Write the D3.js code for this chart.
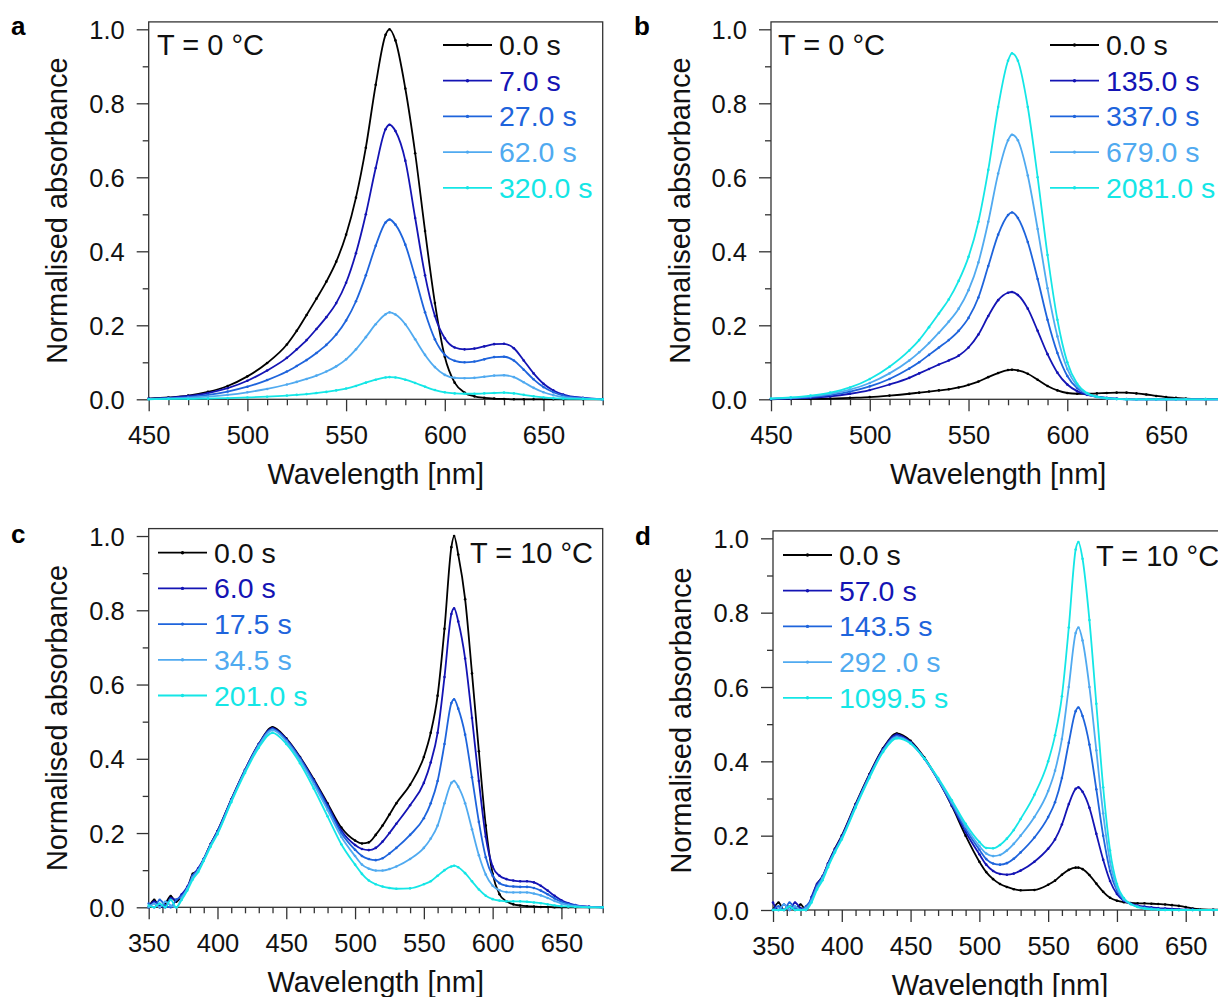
<!DOCTYPE html>
<html>
<head>
<meta charset="utf-8">
<script src="https://d3js.org/d3.v7.min.js"></script>
<style>
  body { margin: 0; background: #fff; }
  text { font-family: "Liberation Sans", Arial, sans-serif; }
</style>
</head>
<body>
<svg id="fig" width="1218" height="997"></svg>
<script>
// colours of the five time traces (black, dark blue, blue, light blue, cyan)
const seriesColors = ['#000000', '#1414b4', '#1e64dc', '#50aaf0', '#14e6e6'];

// ---- panels a / b : 450-680 nm ----
const wlAB = [450,460,470,480,490,500,510,520,525,530,535,540,545,550,555,560,565,570,572,575,
              580,585,590,595,600,605,610,615,620,625,630,635,640,645,650,655,660,670,680];

const labelsA = ['0.0 s', '7.0 s', '27.0 s', '62.0 s', '320.0 s'];
const a0 = [0.002,0.005,0.01,0.02,0.036, 0.062,0.098,0.148,0.185,0.228, 0.272,0.318,0.372,0.445,0.545, 0.68,0.85,0.985,1.0,0.97,
            0.84,0.665,0.455,0.26,0.115, 0.045,0.018,0.008,0.004,0.002, 0.001,0,0,0,0, 0,0,0,0];
const a1 = [0.002,0.004,0.009,0.017,0.03, 0.05,0.078,0.112,0.135,0.16, 0.19,0.222,0.26,0.315,0.395, 0.5,0.625,0.73,0.742,0.725,
            0.645,0.49,0.335,0.225,0.165, 0.14,0.135,0.137,0.143,0.149, 0.15,0.138,0.105,0.07,0.042, 0.024,0.013,0.004,0.001];
const a2 = [0.001,0.003,0.006,0.012,0.021, 0.034,0.052,0.075,0.09,0.106, 0.125,0.147,0.175,0.213,0.265, 0.335,0.415,0.478,0.486,0.472,
            0.418,0.33,0.235,0.162,0.12, 0.104,0.1,0.102,0.108,0.114, 0.115,0.105,0.08,0.054,0.033, 0.019,0.01,0.003,0];
const a3 = [0.001,0.002,0.004,0.007,0.012, 0.019,0.028,0.04,0.047,0.055, 0.064,0.075,0.089,0.108,0.135, 0.168,0.203,0.23,0.235,0.229,
            0.203,0.162,0.12,0.087,0.066, 0.058,0.057,0.058,0.061,0.064, 0.065,0.06,0.046,0.031,0.019, 0.011,0.006,0.002,0];
const a4 = [0,0.001,0.001,0.002,0.003, 0.005,0.007,0.01,0.012,0.014, 0.017,0.02,0.024,0.029,0.036, 0.045,0.053,0.059,0.06,0.059,
            0.053,0.044,0.034,0.025,0.019, 0.016,0.015,0.015,0.016,0.017, 0.018,0.016,0.012,0.008,0.005, 0.003,0.002,0.001,0];

const labelsB = ['0.0 s', '135.0 s', '337.0 s', '679.0 s', '2081.0 s'];
const b0 = [0,0.001,0.001,0.002,0.004, 0.006,0.01,0.015,0.018,0.021, 0.024,0.027,0.032,0.039,0.048, 0.06,0.071,0.079,0.08,0.078,
            0.069,0.053,0.036,0.024,0.017, 0.015,0.015,0.016,0.017,0.018, 0.018,0.016,0.013,0.009,0.006, 0.004,0.002,0.001,0];
const b1 = [0.001,0.002,0.004,0.008,0.015, 0.025,0.04,0.058,0.07,0.082, 0.094,0.105,0.118,0.14,0.175, 0.225,0.268,0.288,0.29,0.282,
            0.245,0.185,0.122,0.072,0.04, 0.022,0.012,0.007,0.004,0.002, 0.001,0,0,0,0, 0,0,0,0];
const b2 = [0.001,0.003,0.006,0.012,0.021, 0.035,0.055,0.083,0.1,0.12, 0.14,0.16,0.185,0.22,0.275, 0.36,0.445,0.498,0.505,0.49,
            0.425,0.325,0.215,0.125,0.063, 0.03,0.014,0.007,0.003,0.001, 0,0,0,0,0, 0,0,0,0];
const b3 = [0.002,0.004,0.008,0.015,0.026, 0.044,0.07,0.105,0.127,0.152, 0.18,0.21,0.245,0.295,0.37, 0.48,0.61,0.7,0.715,0.7,
            0.605,0.46,0.3,0.17,0.082, 0.036,0.015,0.006,0.002,0.001, 0,0,0,0,0, 0,0,0,0];
const b4 = [0.002,0.005,0.01,0.018,0.032, 0.055,0.088,0.132,0.16,0.195, 0.232,0.27,0.32,0.385,0.48, 0.62,0.79,0.915,0.935,0.915,
            0.79,0.6,0.39,0.215,0.1, 0.042,0.017,0.007,0.003,0.001, 0,0,0,0,0, 0,0,0,0];

// ---- panels c / d : 350-680 nm ----
const wlCD = [350,354,358,362,366,370,374,378,382,386, 390,395,400,410,420,430,440,450,460,470,
              480,490,500,505,510,515,520,525,530,540, 550,555,560,565,570,572,575,580,585,590,
              595,600,605,610,615,620,625,630,635,640, 645,650,655,660,670,680];

const labelsC = ['0.0 s', '6.0 s', '17.5 s', '34.5 s', '201.0 s'];
const c0 = [0,0.02,0,0.01,0.03,0.015,0.03,0.05,0.09,0.1, 0.13,0.17,0.205,0.29,0.37,0.44,0.485,0.455,0.405,0.345,
            0.28,0.215,0.18,0.172,0.175,0.195,0.22,0.25,0.28,0.33, 0.405,0.47,0.57,0.75,0.97,1.0,0.95,0.83,0.63,0.42,
            0.22,0.09,0.035,0.016,0.008,0.005,0.003,0.002,0.001,0.001, 0,0,0,0,0,0];
const c1 = [0,0.015,0.005,0,0.025,0.02,0.035,0.055,0.085,0.105, 0.13,0.17,0.205,0.29,0.37,0.44,0.482,0.453,0.403,0.342,
            0.275,0.207,0.168,0.157,0.154,0.16,0.177,0.2,0.225,0.275, 0.335,0.39,0.47,0.62,0.79,0.805,0.77,0.67,0.51,0.34,
            0.19,0.11,0.085,0.076,0.072,0.07,0.07,0.067,0.058,0.045, 0.031,0.019,0.011,0.006,0.002,0];
const c2 = [0.01,0,0.02,0.005,0,0.02,0.03,0.05,0.085,0.1, 0.13,0.168,0.203,0.288,0.368,0.438,0.48,0.45,0.4,0.338,
            0.27,0.2,0.155,0.138,0.13,0.127,0.132,0.145,0.16,0.195, 0.24,0.28,0.34,0.44,0.55,0.56,0.535,0.465,0.35,0.23,
            0.135,0.085,0.065,0.058,0.056,0.055,0.055,0.052,0.045,0.035, 0.024,0.015,0.009,0.005,0.001,0];
const c3 = [0,0.01,0,0.015,0.005,0,0.025,0.05,0.08,0.1, 0.128,0.167,0.2,0.286,0.366,0.435,0.477,0.447,0.396,0.332,
            0.262,0.19,0.138,0.115,0.104,0.099,0.099,0.103,0.11,0.13, 0.16,0.185,0.22,0.28,0.335,0.34,0.325,0.28,0.21,0.14,
            0.088,0.058,0.046,0.041,0.04,0.04,0.04,0.037,0.032,0.025, 0.017,0.01,0.006,0.003,0.001,0];
const c4 = [0.005,0,0.01,0,0.02,0,0.02,0.045,0.075,0.095, 0.125,0.163,0.197,0.283,0.362,0.43,0.47,0.44,0.388,0.32,
            0.245,0.17,0.115,0.09,0.072,0.062,0.056,0.052,0.05,0.051, 0.062,0.07,0.085,0.1,0.11,0.112,0.108,0.092,0.07,0.048,
            0.031,0.022,0.018,0.016,0.016,0.016,0.015,0.013,0.011,0.008, 0.005,0.003,0.002,0.001,0,0];

// (named dd* so they do not shadow the d3 global)
const labelsD = ['0.0 s', '57.0 s', '143.5 s', '292 .0 s', '1099.5 s'];
const dd0 = [0,0.02,0,0.01,0,0.015,0,0.03,0.07,0.09, 0.125,0.165,0.2,0.285,0.365,0.435,0.475,0.455,0.41,0.35,
            0.28,0.2,0.13,0.102,0.083,0.07,0.062,0.056,0.053,0.054, 0.068,0.079,0.095,0.108,0.114,0.114,0.11,0.094,0.071,0.049,
            0.033,0.025,0.021,0.019,0.018,0.018,0.017,0.016,0.015,0.013, 0.011,0.008,0.004,0.002,0.001,0];
const dd1 = [0.02,0,0.015,0,0.02,0.005,0,0.035,0.07,0.09, 0.125,0.163,0.198,0.283,0.363,0.433,0.472,0.452,0.408,0.35,
            0.282,0.21,0.15,0.122,0.105,0.097,0.095,0.098,0.106,0.13, 0.165,0.19,0.23,0.285,0.326,0.33,0.318,0.275,0.205,0.135,
            0.078,0.043,0.025,0.017,0.012,0.009,0.007,0.005,0.004,0.003, 0.002,0.001,0.001,0,0,0];
const dd2 = [0,0.01,0,0.02,0.005,0,0.01,0.03,0.065,0.088, 0.122,0.16,0.195,0.28,0.36,0.43,0.468,0.45,0.407,0.35,
            0.285,0.218,0.162,0.137,0.125,0.122,0.126,0.138,0.155,0.195, 0.25,0.29,0.355,0.45,0.535,0.545,0.522,0.445,0.325,0.2,
            0.105,0.052,0.027,0.016,0.01,0.006,0.004,0.002,0.001,0, 0,0,0,0,0,0];
const dd3 = [0,0,0.015,0,0.01,0,0.005,0.025,0.06,0.085, 0.12,0.158,0.193,0.278,0.358,0.428,0.465,0.449,0.407,0.352,
            0.29,0.225,0.172,0.152,0.145,0.148,0.16,0.178,0.2,0.25, 0.32,0.375,0.46,0.6,0.745,0.76,0.725,0.6,0.43,0.26,
            0.13,0.06,0.029,0.016,0.009,0.005,0.003,0.001,0,0, 0,0,0,0,0,0];
const dd4 = [0,0,0,0.01,0,0,0,0.02,0.055,0.08, 0.115,0.155,0.19,0.275,0.355,0.425,0.462,0.448,0.408,0.355,
            0.295,0.232,0.183,0.167,0.166,0.175,0.192,0.215,0.245,0.31, 0.4,0.47,0.575,0.76,0.97,0.99,0.945,0.78,0.555,0.33,
            0.16,0.07,0.032,0.016,0.008,0.004,0.002,0.001,0,0, 0,0,0,0,0,0];

const xTicksAB = [450, 500, 550, 600, 650];
const xTicksCD = [350, 400, 450, 500, 550, 600, 650];
const yTicks = [0, 0.2, 0.4, 0.6, 0.8, 1.0];

// layout of the four panels
const panels = [
  { letter: 'a', wl: wlAB, series: [a0, a1, a2, a3, a4], labels: labelsA, xDomain: [450, 680], xTicks: xTicksAB,
    left: 148.7, right: 602.7, top: 21.9, bottom: 399.3,
    letterPos: [11, 35], temp: 'T = 0 °C', tempPos: [157, 55], tempAnchor: 'start',
    legend: [443, 45], yTitleX: 67 },
  { letter: 'b', wl: wlAB, series: [b0, b1, b2, b3, b4], labels: labelsB, xDomain: [450, 680], xTicks: xTicksAB,
    left: 771, right: 1225.3, top: 21.9, bottom: 399.3,
    letterPos: [634, 35], temp: 'T = 0 °C', tempPos: [778, 55], tempAnchor: 'start',
    legend: [1050, 45], yTitleX: 690 },
  { letter: 'c', wl: wlCD, series: [c0, c1, c2, c3, c4], labels: labelsC, xDomain: [350, 680], xTicks: xTicksCD,
    left: 148.7, right: 602.7, top: 528.6, bottom: 907.3,
    letterPos: [11, 543], temp: 'T = 10 °C', tempPos: [593, 563], tempAnchor: 'end',
    legend: [158, 552.7], yTitleX: 67 },
  { letter: 'd', wl: wlCD, series: [dd0, dd1, dd2, dd3, dd4], labels: labelsD, xDomain: [350, 680], xTicks: xTicksCD,
    left: 773, right: 1227, top: 530.9, bottom: 910,
    letterPos: [635, 545], temp: 'T = 10 °C', tempPos: [1096, 566], tempAnchor: 'start',
    legend: [783, 555], yTitleX: 691 }
];

const axisColor = '#333';
const svg = d3.select('#fig');

panels.forEach(p => {
  const g = svg.append('g');
  const x = d3.scaleLinear().domain(p.xDomain).range([p.left, p.right]);
  const y = d3.scaleLinear().domain([0, 1.02]).range([p.bottom, p.top]);

  // frame
  g.append('rect')
    .attr('x', p.left).attr('y', p.top)
    .attr('width', p.right - p.left).attr('height', p.bottom - p.top)
    .attr('fill', 'none').attr('stroke', axisColor).attr('stroke-width', 1.3);

  // minor ticks
  const xMinor = d3.range(p.xDomain[0], p.xDomain[1] + 1, 10).filter(v => v % 50 !== 0);
  const yMinor = [0.1, 0.3, 0.5, 0.7, 0.9];
  g.append('g').attr('transform', `translate(0,${p.bottom})`)
    .call(d3.axisBottom(x).tickValues(xMinor).tickSize(6).tickFormat(''))
    .call(s => s.select('.domain').remove());
  g.append('g').attr('transform', `translate(${p.left},0)`)
    .call(d3.axisLeft(y).tickValues(yMinor).tickSize(6).tickFormat(''))
    .call(s => s.select('.domain').remove());

  // major ticks + labels
  const xa = g.append('g').attr('transform', `translate(0,${p.bottom})`)
    .call(d3.axisBottom(x).tickValues(p.xTicks).tickSize(12).tickFormat(d3.format('d')));
  xa.select('.domain').remove();
  xa.selectAll('text').attr('y', 45).attr('dy', 0).attr('font-size', 25.5).attr('fill', '#111');

  const ya = g.append('g').attr('transform', `translate(${p.left},0)`)
    .call(d3.axisLeft(y).tickValues(yTicks).tickSize(12).tickFormat(d3.format('.1f')));
  ya.select('.domain').remove();
  ya.selectAll('text').attr('x', -24).attr('dy', '0.36em').attr('font-size', 25.5).attr('fill', '#111');

  g.selectAll('.tick line').attr('stroke', axisColor).attr('stroke-width', 1.3);

  // axis titles
  g.append('text')
    .attr('x', (p.left + p.right) / 2).attr('y', p.bottom + 85)
    .attr('text-anchor', 'middle').attr('font-size', 29).attr('fill', '#111')
    .text('Wavelength [nm]');
  g.append('text')
    .attr('transform', `translate(${p.yTitleX},${(p.top + p.bottom) / 2}) rotate(-90)`)
    .attr('text-anchor', 'middle').attr('font-size', 29).attr('fill', '#111')
    .text('Normalised absorbance');

  // spectra
  const line = d3.line()
    .x((d, i) => x(p.wl[i]))
    .y(d => y(d))
    .curve(d3.curveMonotoneX);
  p.series.forEach((vals, k) => {
    g.append('path')
      .attr('d', line(vals))
      .attr('fill', 'none')
      .attr('stroke', seriesColors[k])
      .attr('stroke-width', 1.8);
    g.append('g').selectAll('circle')
      .data(vals)
      .join('circle')
      .attr('cx', (d, i) => x(p.wl[i]))
      .attr('cy', d => y(d))
      .attr('r', 1.3)
      .attr('fill', seriesColors[k]);
  });

  // legend
  const rowH = 35.7;
  p.labels.forEach((lab, k) => {
    const ly = p.legend[1] + k * rowH;
    g.append('line')
      .attr('x1', p.legend[0]).attr('x2', p.legend[0] + 49)
      .attr('y1', ly).attr('y2', ly)
      .attr('stroke', seriesColors[k]).attr('stroke-width', 1.8);
    g.append('circle')
      .attr('cx', p.legend[0] + 24.5).attr('cy', ly).attr('r', 1.7)
      .attr('fill', seriesColors[k]);
    g.append('text')
      .attr('x', p.legend[0] + 56).attr('y', ly + 10)
      .attr('font-size', 28.5).attr('fill', k === 0 ? '#111' : seriesColors[k])
      .text(lab);
  });

  // temperature note
  g.append('text')
    .attr('x', p.tempPos[0]).attr('y', p.tempPos[1])
    .attr('text-anchor', p.tempAnchor).attr('font-size', 29).attr('fill', '#111')
    .text(p.temp);

  // panel letter
  g.append('text')
    .attr('x', p.letterPos[0]).attr('y', p.letterPos[1])
    .attr('font-size', 26).attr('font-weight', 'bold').attr('fill', '#000')
    .text(p.letter);
});
</script>
</body>
</html>
